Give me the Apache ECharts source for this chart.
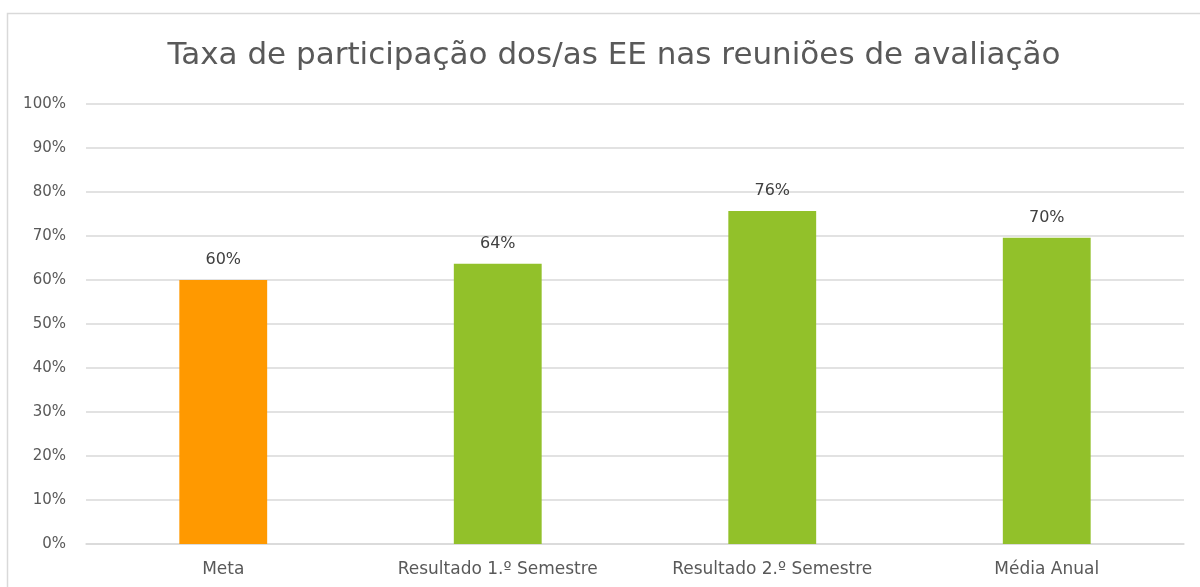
<!DOCTYPE html>
<html>
<head>
<meta charset="utf-8">
<script src="https://cdn.jsdelivr.net/npm/echarts@6/dist/echarts.min.js"></script>
<style>
  html, body { margin: 0; padding: 0; background: #fff; }
  #main { width: 1200px; height: 587px; }
</style>
</head>
<body>
<div id="main"></div>
<script>
const chart = echarts.init(document.querySelector('#main'));

// dados
const categorias = ['Meta', 'Resultado 1.º Semestre', 'Resultado 2.º Semestre', 'Média Anual'];
const valores = [60, 63.7, 75.7, 69.6];
const cores = ['#FF9900', '#92C12A', '#92C12A', '#92C12A'];

const fonte = 'DejaVu Sans';

let option = {
    animation: false,
    title: {
        text: 'Taxa de participação dos/as EE nas reuniões de avaliação',
        left: 609,
        textAlign: 'center',
        top: 35,
        textStyle: {
            fontFamily: fonte,
            fontSize: 31,
            fontWeight: 'normal',
            color: '#595959'
        }
    },
    graphic: [
        {
            type: 'rect',
            shape: { x: 7.5, y: 13.5, width: 1300, height: 700 },
            style: { fill: 'none', stroke: '#d9d9d9', lineWidth: 1.5 },
            silent: true
        }
    ],
    grid: {
        left: 86,
        right: 16,
        top: 104,
        bottom: 43,
        containLabel: false
    },
    xAxis: {
        type: 'category',
        data: categorias,
        axisLine: { show: true, lineStyle: { color: '#d9d9d9', width: 1.5 } },
        axisTick: { show: false },
        axisLabel: {
            fontFamily: fonte,
            fontSize: 17,
            color: '#595959',
            margin: 17
        }
    },
    yAxis: {
        type: 'value',
        min: 0,
        max: 100,
        interval: 10,
        axisLine: { show: false },
        axisTick: { show: false },
        axisLabel: {
            formatter: '{value}%',
            fontFamily: fonte,
            fontSize: 15,
            color: '#595959',
            margin: 20
        },
        splitLine: { lineStyle: { color: '#d9d9d9', width: 1.5 } }
    },
    series: [
        {
            type: 'bar',
            barWidth: '32%',
            data: valores.map((v, i) => ({ value: v, itemStyle: { color: cores[i] } })),
            label: {
                show: true,
                position: 'top',
                distance: 12,
                fontFamily: fonte,
                fontSize: 16,
                color: '#404040',
                formatter: (p) => Math.round(p.value) + '%'
            }
        }
    ]
};

chart.setOption(option);
</script>
</body>
</html>
